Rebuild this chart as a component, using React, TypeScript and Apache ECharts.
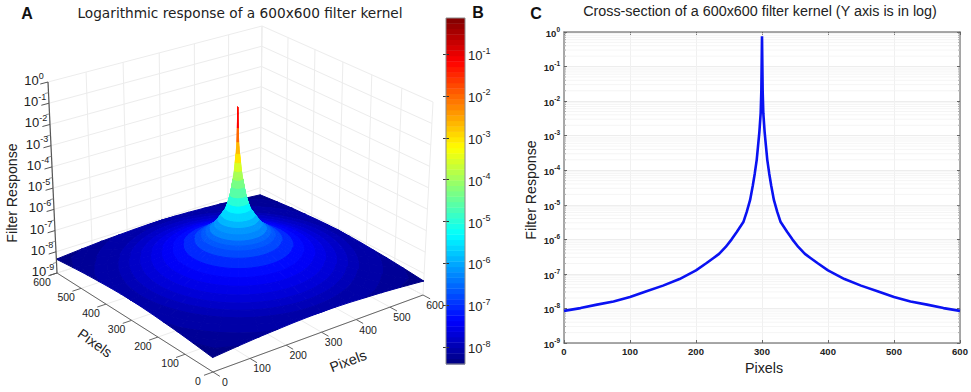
import React, { useEffect, useRef } from "react";
import * as echarts from "echarts";

// ---- Panel C: cross-section
const crossPixels = [0, 25, 50, 75, 100, 125, 150, 175, 200, 215, 225, 235, 245, 254, 262, 272, 277, 282, 286, 289, 292, 294, 296, 298, 299, 300, 301, 302, 304, 306, 308, 311, 314, 318, 323, 328, 338, 346, 355, 365, 375, 385, 400, 425, 450, 475, 500, 525, 550, 575, 600];
const crossExponent = [-8.07, -7.99, -7.89, -7.8, -7.67, -7.5, -7.34, -7.15, -6.9, -6.7, -6.56, -6.42, -6.22, -6.0, -5.78, -5.49, -5.2, -4.86, -4.45, -4.1, -3.7, -3.3, -2.9, -2.35, -1.7, -0.12, -1.7, -2.35, -2.9, -3.3, -3.7, -4.1, -4.45, -4.86, -5.2, -5.49, -5.78, -6.0, -6.22, -6.42, -6.56, -6.7, -6.9, -7.15, -7.34, -7.5, -7.67, -7.8, -7.89, -7.99, -8.07];
const crossDecades = [0, -1, -2, -3, -4, -5, -6, -7, -8, -9];
const minorMultipliers = [2, 3, 4, 5, 6, 7, 8, 9];

// ---- Panel A: radial profile of the 3D surface (distance from kernel centre, log10 response)
const surfaceRadius = [0, 1, 2, 4, 6, 8, 11, 14, 18, 23, 28, 38, 46, 55, 65, 75, 85, 100, 125, 150, 175, 200, 225, 250, 275, 300, 330, 360, 390, 425];
const surfaceExponent = [-0.7, -1.7, -2.35, -2.9, -3.3, -3.7, -4.1, -4.45, -4.86, -5.2, -5.49, -5.78, -6.0, -6.22, -6.42, -6.56, -6.7, -6.9, -7.15, -7.34, -7.5, -7.67, -7.8, -7.89, -7.99, -8.07, -8.15, -8.2, -8.28, -8.35];
const surfaceAngles = Array.from({ length: 48 }, (_, j) => j * 7.5);
const surfaceTicks = [0, 100, 200, 300, 400, 500, 600];
const surfaceZTicks = [0, -1, -2, -3, -4, -5, -6, -7, -8, -9];

// ---- Panel B: colour bar
const barMin = -8.4;
const barMax = -0.14;
const barTicks = [-8, -7, -6, -5, -4, -3, -2, -1];
const barLevels = Array.from({ length: 64 }, (_, i) => i);

// ---- helpers
const clamp01 = (v: number) => Math.max(0, Math.min(1, v));
function jet(level: number) {
  const t = (level + 0.5) / 64;
  const r = clamp01(1.5 - Math.abs(4 * t - 3));
  const g = clamp01(1.5 - Math.abs(4 * t - 2));
  const b = clamp01(1.5 - Math.abs(4 * t - 1));
  return `rgb(${Math.round(r * 255)},${Math.round(g * 255)},${Math.round(b * 255)})`;
}
function levelOf(exp: number) {
  return Math.max(0, Math.min(63, Math.floor(((exp - barMin) / (barMax - barMin)) * 64)));
}
type Pt = [number, number];
function homography(p00: Pt, p10: Pt, p11: Pt, p01: Pt) {
  const [x0, y0] = p00, [x1, y1] = p10, [x2, y2] = p11, [x3, y3] = p01;
  const dx1 = x1 - x2, dx2 = x3 - x2, sx = x0 - x1 + x2 - x3;
  const dy1 = y1 - y2, dy2 = y3 - y2, sy = y0 - y1 + y2 - y3;
  const den = dx1 * dy2 - dx2 * dy1;
  const g = (sx * dy2 - dx2 * sy) / den;
  const h = (dx1 * sy - sx * dy1) / den;
  const a = x1 - x0 + g * x1, b = x3 - x0 + h * x3;
  const d = y1 - y0 + g * y1, e = y3 - y0 + h * y3;
  return (u: number, v: number): Pt => {
    const w = g * u + h * v + 1;
    return [(a * u + b * v + x0) / w, (d * u + e * v + y0) / w];
  };
}
// The 3D view: where the box's z=1e-9 and z=1e0 planes fall in the page.
const floorMap = homography([213, 372], [423, 295], [260, 208], [57, 273]);
const ceilMap = homography([208, 172], [433, 102], [262, 26], [48, 82]);
function project(x: number, y: number, z: number): Pt {
  const f = floorMap(x / 600, y / 600);
  const c = ceilMap(x / 600, y / 600);
  const t = (z + 9) / 9;
  return [f[0] + (c[0] - f[0]) * t, f[1] + (c[1] - f[1]) * t];
}
function profileAt(r: number) {
  for (let i = 1; i < surfaceRadius.length; i++) {
    if (r <= surfaceRadius[i]) {
      const k = (r - surfaceRadius[i - 1]) / (surfaceRadius[i] - surfaceRadius[i - 1]);
      return surfaceExponent[i - 1] + k * (surfaceExponent[i] - surfaceExponent[i - 1]);
    }
  }
  return surfaceExponent[surfaceExponent.length - 1];
}
function ringVertex(i: number, j: number) {
  const a = (surfaceAngles[j % surfaceAngles.length] * Math.PI) / 180;
  const ca = Math.cos(a), sa = Math.sin(a);
  const limit = 300 / Math.max(Math.abs(ca), Math.abs(sa));
  const r = Math.min(surfaceRadius[i], limit);
  return { x: 300 + r * ca, y: 300 + r * sa, z: profileAt(r), r };
}

const surfaceCells: number[][] = [];
for (let i = 0; i < surfaceRadius.length - 1; i++) {
  for (let j = 0; j < surfaceAngles.length; j++) {
    const v = [ringVertex(i, j), ringVertex(i + 1, j), ringVertex(i + 1, j + 1), ringVertex(i, j + 1)];
    if (v[0].r === v[1].r && v[2].r === v[3].r) continue;
    const cx = (v[0].x + v[1].x + v[2].x + v[3].x) / 4;
    const cy = (v[0].y + v[1].y + v[2].y + v[3].y) / 4;
    surfaceCells.push([i, j, cx + cy]);
  }
}
surfaceCells.sort((a, b) => b[2] - a[2]);

const SANS = "'Liberation Sans', Arial, sans-serif";
const VERDANA = "'DejaVu Sans', Verdana, sans-serif";
const INK = "#222";

type Seg = { a: Pt; b: Pt; color: string; width: number };
function boxSegments(): Seg[] {
  const out: Seg[] = [];
  const faint = "#ececec";
  for (const t of surfaceTicks) {
    out.push({ a: project(t, 600, -9), b: project(t, 600, 0), color: faint, width: 1 });
    out.push({ a: project(600, t, -9), b: project(600, t, 0), color: faint, width: 1 });
    out.push({ a: project(t, 0, -9), b: project(t, 600, -9), color: faint, width: 1 });
    out.push({ a: project(0, t, -9), b: project(600, t, -9), color: faint, width: 1 });
  }
  for (const z of surfaceZTicks) {
    out.push({ a: project(0, 600, z), b: project(600, 600, z), color: faint, width: 1 });
    out.push({ a: project(600, 600, z), b: project(600, 0, z), color: faint, width: 1 });
  }
  return out;
}
function axisSegments(): Seg[] {
  const out: Seg[] = [];
  const dark = "#666";
  out.push({ a: project(0, 0, -9), b: project(600, 0, -9), color: dark, width: 1 });
  out.push({ a: project(0, 0, -9), b: project(0, 600, -9), color: dark, width: 1 });
  out.push({ a: project(0, 600, -9), b: project(0, 600, 0), color: "#555", width: 1.2 });
  for (const t of surfaceTicks) {
    out.push({ a: project(t, 0, -9), b: project(t, -24, -9), color: dark, width: 1 });
    out.push({ a: project(0, t, -9), b: project(-24, t, -9), color: dark, width: 1 });
  }
  for (const z of surfaceZTicks) {
    out.push({ a: project(0, 600, z), b: project(-20, 600, z), color: "#555", width: 1 });
    if (z > -9) {
      out.push({ a: project(0, 600, z - 0.5), b: project(-10, 600, z - 0.5), color: "#777", width: 0.8 });
    }
  }
  return out;
}
const lineRender = (segs: Seg[]) => (params: any) => {
  const s = segs[params.dataIndex];
  return {
    type: "line",
    shape: { x1: s.a[0], y1: s.a[1], x2: s.b[0], y2: s.b[1] },
    style: { stroke: s.color, lineWidth: s.width, fill: "none" },
    silent: true,
  };
};

function powerText(e: number) {
  return `{b|10}{s|${e}}`;
}
const sup = (base: number, small: number, weight: string = "normal") => ({
  b: { fontSize: base, fontFamily: SANS, fontWeight: weight, color: INK, lineHeight: base + 3, verticalAlign: "bottom" },
  s: { fontSize: small, fontFamily: SANS, fontWeight: weight, color: INK, lineHeight: base + 3, verticalAlign: "top", padding: [0, 0, 0, 0] },
});

function label(x: number, y: number, text: string, size: number, opts: any = {}) {
  return {
    type: "text",
    x,
    y,
    rotation: opts.rotation || 0,
    z: 20,
    silent: true,
    style: {
      text,
      fill: opts.color || INK,
      fontSize: size,
      fontFamily: opts.family || SANS,
      fontWeight: opts.weight || "normal",
      align: opts.align || "center",
      textAlign: opts.align || "center",
      verticalAlign: "middle",
      textVerticalAlign: "middle",
      rich: opts.rich,
    },
  };
}

export default function App() {
  const ref = useRef<HTMLDivElement>(null);
  useEffect(() => {
    document.body.style.margin = "0";
    document.body.style.background = "#fff";
    const chart = echarts.init(ref.current!, undefined, { renderer: "svg" });
    const box = boxSegments();
    const axes = axisSegments();

    const texts: any[] = [
      label(27, 13, "A", 16, { weight: "bold", color: "#111" }),
      label(478, 12, "B", 16, { weight: "bold", color: "#111" }),
      label(536, 13, "C", 16, { weight: "bold", color: "#111" }),
      label(240, 13, "Logarithmic response of a 600x600 filter kernel", 13.7, { family: VERDANA }),
      label(760, 11, "Cross-section of a 600x600 filter kernel (Y axis is in log)", 14.35),
      label(12, 193, "Filter Response", 14.2, { rotation: Math.PI / 2 }),
      label(531, 190, "Filter Response", 14.2, { rotation: Math.PI / 2 }),
      label(764, 368, "Pixels", 14.3),
      label(95, 343, "Pixels", 14.3, { rotation: -0.62 }),
      label(348, 361, "Pixels", 14.3, { rotation: 0.36 }),
    ];
    for (const t of surfaceTicks) {
      const px = project(t, 0, -9);
      const py = project(0, t, -9);
      texts.push(label(px[0] + 12, px[1] + 10, String(t), 10.5));
      texts.push(label(py[0] - 15, py[1] + 9, String(t), 10.5));
    }
    for (const z of surfaceZTicks) {
      const p = project(0, 600, z);
      texts.push(label(p[0] - 14, p[1] - 3, powerText(z), 13, { rich: sup(13, 9) }));
    }
    texts.push({
      type: "rect",
      shape: { x: 446, y: 18, width: 19, height: 346 },
      style: { fill: "none", stroke: "#8a8a8a", lineWidth: 1 },
      z: 19,
      silent: true,
    });

    chart.setOption({
      animation: false,
      backgroundColor: "#fff",
      grid: [
        { left: 446, top: 18, width: 19, height: 346 },
        { left: 564, top: 32, width: 396, height: 311, show: false },
      ],
      xAxis: [
        { gridIndex: 0, type: "value", min: 0, max: 1, show: false },
        {
          gridIndex: 1,
          type: "value",
          min: 0,
          max: 600,
          interval: 100,
          position: "bottom",
          axisLine: { lineStyle: { color: "#8c8c8c", width: 1.5 } },
          axisTick: { inside: true, length: 3, lineStyle: { color: "#666" } },
          axisLabel: { color: INK, fontSize: 9.5, fontFamily: SANS, fontWeight: "bold", margin: 3, hideOverlap: false, showMinLabel: true, showMaxLabel: true },
          splitLine: { show: true, lineStyle: { color: "#f0f0f0", width: 1 } },
        },
        {
          gridIndex: 1,
          type: "value",
          min: 0,
          max: 600,
          interval: 100,
          position: "top",
          axisLine: { lineStyle: { color: "#8c8c8c", width: 1.5 } },
          axisTick: { inside: true, length: 3, lineStyle: { color: "#666" } },
          axisLabel: { show: false },
          splitLine: { show: false },
        },
      ],
      yAxis: [
        {
          gridIndex: 0,
          type: "value",
          min: barMin,
          max: barMax,
          position: "right",
          z: 6,
          axisLine: { show: false },
          axisTick: { show: true, inside: true, length: 3, customValues: barTicks, lineStyle: { color: "#333" } },
          axisLabel: {
            show: true,
            customValues: barTicks,
            margin: 3,
            hideOverlap: false,
            formatter: (v: number) => powerText(Math.round(v)),
            rich: sup(13, 9),
          },
          splitLine: { show: false },
        },
        {
          gridIndex: 0,
          type: "value",
          min: barMin,
          max: barMax,
          position: "left",
          z: 6,
          axisLine: { show: false },
          axisTick: { show: true, inside: true, length: 3, customValues: barTicks, lineStyle: { color: "#333" } },
          axisLabel: { show: false },
          splitLine: { show: false },
        },
        {
          gridIndex: 1,
          type: "log",
          logBase: 10,
          min: 1e-9,
          max: 1,
          position: "left",
          axisLine: { onZero: false, lineStyle: { color: "#8c8c8c", width: 1.5 } },
          axisTick: { inside: true, length: 3, lineStyle: { color: "#666" } },
          axisLabel: {
            margin: 4,
            hideOverlap: false,
            showMinLabel: true,
            showMaxLabel: true,
            formatter: (v: number) => powerText(Math.round(Math.log10(v))),
            rich: sup(9.5, 6.5, "bold"),
          },
          splitLine: { show: true, lineStyle: { color: "#ededed", width: 1 } },
        },
        {
          gridIndex: 1,
          type: "log",
          logBase: 10,
          min: 1e-9,
          max: 1,
          position: "right",
          axisLine: { onZero: false, lineStyle: { color: "#8c8c8c", width: 1.5 } },
          axisTick: { inside: true, length: 3, lineStyle: { color: "#666" } },
          axisLabel: { show: false },
          splitLine: { show: false },
        },
      ],
      series: [
        {
          type: "custom",
          coordinateSystem: "none",
          silent: true,
          z: 1,
          data: box.map((_, i) => [i]),
          renderItem: lineRender(box),
        },
        {
          type: "custom",
          coordinateSystem: "none",
          silent: true,
          progressive: 0,
          z: 3,
          data: surfaceCells,
          renderItem: (_p: any, api: any) => {
            const i = api.value(0), j = api.value(1);
            const v = [ringVertex(i, j), ringVertex(i + 1, j), ringVertex(i + 1, j + 1), ringVertex(i, j + 1)];
            const zMean = (v[0].z + v[1].z + v[2].z + v[3].z) / 4;
            const c = jet(levelOf(zMean));
            const tip = zMean > -2.9;
            return {
              type: "polygon",
              shape: { points: v.map((q) => project(q.x, q.y, q.z)) },
              style: { fill: c, stroke: c, lineWidth: zMean > -4 ? 0.2 : 1, opacity: tip ? 0.45 : 1 },
              silent: true,
            };
          },
        },
        {
          type: "custom",
          coordinateSystem: "none",
          silent: true,
          z: 4,
          data: axes.map((_, i) => [i]),
          renderItem: lineRender(axes),
        },
        {
          type: "custom",
          xAxisIndex: 0,
          yAxisIndex: 0,
          silent: true,
          z: 2,
          data: barLevels.map((l) => [l]),
          renderItem: (_p: any, api: any) => {
            const l = api.value(0);
            const lo = barMin + ((barMax - barMin) * l) / 64;
            const hi = barMin + ((barMax - barMin) * (l + 1)) / 64;
            const a = api.coord([0, lo]);
            const b = api.coord([1, hi]);
            return {
              type: "rect",
              shape: { x: a[0], y: b[1], width: b[0] - a[0], height: a[1] - b[1] + 0.4 },
              style: { fill: jet(l) },
            };
          },
        },
        {
          type: "custom",
          xAxisIndex: 1,
          yAxisIndex: 2,
          silent: true,
          z: 1,
          data: crossDecades.slice(1).flatMap((k) => minorMultipliers.map((m) => [0, m * Math.pow(10, k)])),
          renderItem: (_p: any, api: any) => {
            const y = api.value(1);
            const a = api.coord([0, y]);
            const b = api.coord([600, y]);
            return {
              type: "group",
              children: [
                { type: "line", shape: { x1: a[0], y1: a[1], x2: b[0], y2: b[1] }, style: { stroke: "#f2f2f2", lineWidth: 0.8 } },
                { type: "line", shape: { x1: a[0], y1: a[1], x2: a[0] + 2, y2: a[1] }, style: { stroke: "#999", lineWidth: 0.8 } },
                { type: "line", shape: { x1: b[0] - 2, y1: b[1], x2: b[0], y2: b[1] }, style: { stroke: "#999", lineWidth: 0.8 } },
              ],
            };
          },
        },
        {
          type: "line",
          name: "Cross-section",
          xAxisIndex: 1,
          yAxisIndex: 2,
          z: 5,
          showSymbol: false,
          silent: true,
          lineStyle: { color: "#0a12f2", width: 2.6 },
          data: crossPixels.map((x, i) => [x, Math.pow(10, crossExponent[i])]),
        },
      ],
      graphic: { elements: texts },
    });
    return () => chart.dispose();
  }, []);
  return <div ref={ref} style={{ position: "absolute", left: 0, top: 0, width: 971, height: 392 }} />;
}
